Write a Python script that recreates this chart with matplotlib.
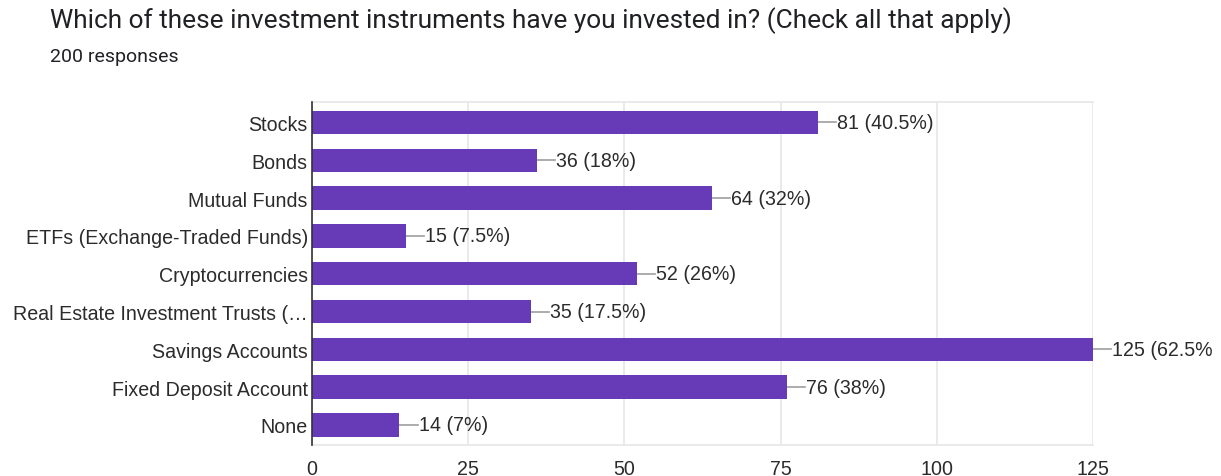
import matplotlib.pyplot as plt
from matplotlib.transforms import Bbox, TransformedBbox
import numpy as np

categories = ["Stocks", "Bonds", "Mutual Funds", "ETFs (Exchange-Traded Funds)",
              "Cryptocurrencies", "Real Estate Investment Trusts (\u2026",
              "Savings Accounts", "Fixed Deposit Account", "None"]
counts = [81, 36, 64, 15, 52, 35, 125, 76, 14]
percents = ["40.5%", "18%", "32%", "7.5%", "26%", "17.5%", "62.5%", "38%", "7%"]
x_ticks = [0, 25, 50, 75, 100, 125]

bar_color = "#673ab7"
grid_color = "#e6e6e6"
text_color = "#2b2b2b"
fs = 14.1

fig = plt.figure(figsize=(12.21, 4.77), dpi=100)
ax = fig.add_axes([312 / 1221, 1 - 446 / 477, 781 / 1221, 343 / 477])

y = np.arange(len(categories))
ax.barh(y, counts, height=0.62, color=bar_color, zorder=3)

# labels run off the right edge of the chart area, so cut them there
label_clip = TransformedBbox(Bbox([[0, 0], [1213 / 1221, 1]]), fig.transFigure)
for yi, c, p in zip(y, counts, percents):
    ax.plot([c, c + 2.9], [yi, yi], color="#9e9e9e", lw=1.2, zorder=2, clip_on=False)
    t = ax.text(c + 3.1, yi, f"{c} ({p})", va="center", ha="left", fontsize=fs,
                color=text_color, family="Liberation Sans")
    t.set_clip_box(label_clip)
    t.set_clip_on(True)

ax.set_xlim(0, 125)
ax.set_ylim(8.53, -0.54)
ax.set_yticks(y)
ax.set_yticklabels(categories, fontsize=fs, color=text_color, family="Liberation Sans")
ax.set_xticks(x_ticks)
ax.set_xticklabels([str(t) for t in x_ticks], fontsize=fs, color=text_color,
                   family="Liberation Sans")
ax.tick_params(axis="both", length=0)
ax.tick_params(axis="x", pad=10)
ax.tick_params(axis="y", pad=3)

ax.grid(axis="x", color=grid_color, lw=1.2, zorder=0)
for side in ["top", "bottom", "right"]:
    ax.spines[side].set_color(grid_color)
    ax.spines[side].set_linewidth(1.2)
ax.spines["right"].set_visible(False)
ax.spines["left"].set_color("#333333")
ax.spines["left"].set_linewidth(1.2)
ax.spines["left"].set_zorder(4)

fig.text(50 / 1221, 1 - 21 / 477, "Which of these investment instruments have you invested in? (Check all that apply)",
         fontsize=18.9, family="Roboto", color="#202124", va="center", ha="left")
fig.text(50 / 1221, 1 - 57 / 477, "200 responses", fontsize=14, family="Roboto",
         color="#202124", va="center", ha="left")

fig.savefig("out.png", dpi=100)
